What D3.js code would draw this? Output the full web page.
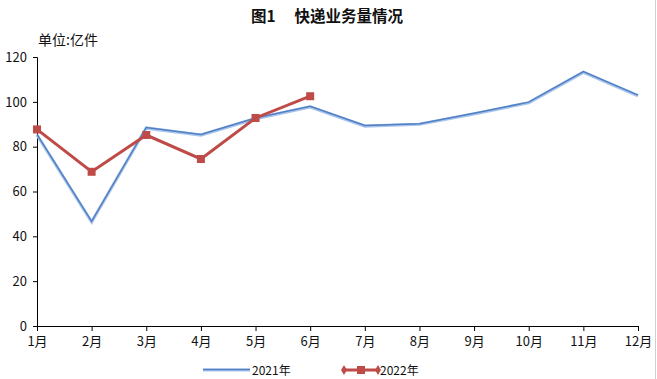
<!DOCTYPE html>
<html><head><meta charset="utf-8">
<script src="https://cdn.jsdelivr.net/npm/d3@7"></script>
<style>body{margin:0;background:#fff}text{font-family:"Noto Sans CJK SC","Liberation Sans",sans-serif}</style>
</head><body>
<svg id="c" width="657" height="379"></svg>
<script>
const months = ["1月","2月","3月","4月","5月","6月","7月","8月","9月","10月","11月","12月"];
const values2021 = [85.2, 46.4, 88.3, 85.2, 92.5, 97.7, 89.2, 90.0, 94.6, 99.6, 113.2, 102.7];
const values2022 = [87.7, 68.8, 85.2, 74.5, 92.8, 102.5];
const yTicks = [0, 20, 40, 60, 80, 100, 120];
const seriesNames = ["2021年", "2022年"];

const svg = d3.select("#c");
const x = d3.scalePoint().domain(months).range([37, 638]);
const y = d3.scaleLinear().domain([0, 120]).range([326, 57]);

svg.append("line").attr("x1",655.5).attr("x2",655.5).attr("y1",0).attr("y2",379).attr("stroke","#d0d0d0");

svg.append("text").attr("x",327).attr("y",22).attr("text-anchor","middle")
  .attr("font-size",15.5).attr("font-weight","bold").attr("fill","#111").text("图1　 快递业务量情况");
svg.append("text").attr("x",38).attr("y",45).attr("font-size",14).attr("fill","#111").text("单位:亿件");

const yAxis = d3.axisLeft(y).tickValues(yTicks).tickSize(4).tickPadding(6);
const gy = svg.append("g").attr("transform","translate(37,0)").call(yAxis);
gy.selectAll("text").attr("font-size",13).attr("fill","#111").attr("font-family","Liberation Sans, sans-serif");
gy.selectAll("line,path").attr("stroke","#000");

const xAxis = d3.axisBottom(x).tickSize(5).tickPadding(6).tickSizeOuter(0);
const gx = svg.append("g").attr("transform","translate(0,326)").call(xAxis);
gx.selectAll("text").attr("font-size",13).attr("fill","#111");
gx.selectAll("line,path").attr("stroke","#000");

const line = d3.line().x((d,i)=>x(months[i])).y(d=>y(d));
svg.append("path").datum(values2021).attr("d",line).attr("fill","none")
  .attr("stroke","#a9c4ea").attr("stroke-width",3.2);
svg.append("path").datum(values2021).attr("d",line).attr("fill","none")
  .attr("stroke","#4f7fc4").attr("stroke-width",1.5).attr("transform","translate(0,-0.6)");

svg.append("path").datum(values2022).attr("d",line).attr("fill","none")
  .attr("stroke","#be4b48").attr("stroke-width",3);
svg.selectAll(".m").data(values2022).enter().append("rect")
  .attr("x",(d,i)=>x(months[i])-4).attr("y",d=>y(d)-4).attr("width",8).attr("height",8).attr("fill","#be4b48");

// legend
const lg = svg.append("g");
lg.append("line").attr("x1",203).attr("x2",250).attr("y1",370).attr("y2",370).attr("stroke","#a9c4ea").attr("stroke-width",3);
lg.append("line").attr("x1",203).attr("x2",250).attr("y1",369.5).attr("y2",369.5).attr("stroke","#4f7fc4").attr("stroke-width",1.3);
lg.append("text").attr("x",252).attr("y",375).attr("font-size",12).attr("fill","#111").text(seriesNames[0]);
lg.append("line").attr("x1",344).attr("x2",378).attr("y1",370).attr("y2",370).attr("stroke","#be4b48").attr("stroke-width",3);
[344,378].forEach(cx=>lg.append("path").attr("d",d3.symbol(d3.symbolDiamond,30)()).attr("transform",`translate(${cx},370)`).attr("fill","#be4b48"));
lg.append("rect").attr("x",357).attr("y",366).attr("width",8).attr("height",8).attr("fill","#be4b48");
lg.append("text").attr("x",380).attr("y",375).attr("font-size",12).attr("fill","#111").text(seriesNames[1]);
</script>
</body></html>
